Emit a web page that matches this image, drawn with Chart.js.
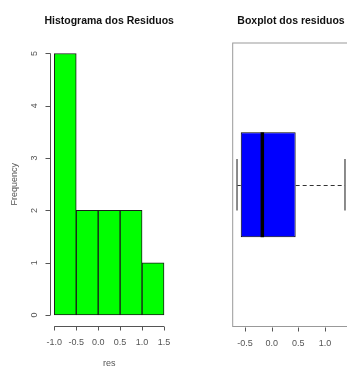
<!DOCTYPE html>
<html>
<head>
<meta charset="utf-8">
<script src="https://cdn.jsdelivr.net/npm/chart.js@4.4.1/dist/chart.umd.min.js"></script>
<style>
  html, body { margin: 0; padding: 0; background: #fff; overflow: hidden; width: 347px; height: 367px; }
  canvas { position: absolute; top: 0; }
  #hist { left: 0; }
  #box { left: 175px; }
</style>
</head>
<body>
<canvas id="hist" width="175" height="367"></canvas>
<canvas id="box" width="200" height="367"></canvas>
<script>
// histogram of the residuals
const breaks = [-1.0, -0.5, 0.0, 0.5, 1.0, 1.5];
const binMids = [-0.75, -0.25, 0.25, 0.75, 1.25];
const counts = [5, 2, 2, 2, 1];
const freqTicks = [0, 1, 2, 3, 4, 5];

// boxplot of the residuals: min, q1, median, q3, max
const boxStats = [-0.65, -0.58, -0.175, 0.45, 1.375];
const boxTicks = [-0.5, 0.0, 0.5, 1.0];

const FONT = '"Liberation Sans", Arial, sans-serif';

// R-like axes: detached lines, outward ticks, rotated y labels
const rAxes = {
  id: 'rAxes',
  afterDatasetsDraw(chart, args, opts) {
    const ctx = chart.ctx;
    const area = chart.chartArea;
    const xs = chart.scales.x;
    ctx.save();
    ctx.textAlign = 'center';
    ctx.textBaseline = 'middle';

    // title
    ctx.fillStyle = '#111';
    ctx.font = 'bold 10.5px ' + FONT;
    ctx.fillText(opts.title, (area.left + area.right) / 2, 21);

    ctx.strokeStyle = '#555';
    ctx.fillStyle = '#555';
    ctx.lineWidth = 1;
    ctx.font = '9px ' + FONT;

    // frame
    if (opts.frame) {
      ctx.strokeStyle = '#999';
      ctx.strokeRect(area.left, area.top, area.right - area.left, area.bottom - area.top);
      ctx.strokeStyle = '#555';
    }

    // bottom axis
    const yb = Math.round(area.bottom) + 0.5;
    ctx.beginPath();
    if (opts.xLine) {
      ctx.moveTo(xs.getPixelForValue(opts.xTicks[0]), yb);
      ctx.lineTo(xs.getPixelForValue(opts.xTicks[opts.xTicks.length - 1]), yb);
    }
    opts.xTicks.forEach(v => {
      const px = Math.round(xs.getPixelForValue(v)) + 0.5;
      ctx.moveTo(px, yb);
      ctx.lineTo(px, yb + 4);
    });
    ctx.stroke();
    opts.xTicks.forEach(v => {
      ctx.fillText(v.toFixed(1), xs.getPixelForValue(v), yb + 16);
    });
    if (opts.xTitle) ctx.fillText(opts.xTitle, (area.left + area.right) / 2, 364);

    // left axis
    if (opts.yTicks) {
      const ys = chart.scales.y;
      const xl = Math.round(area.left) + 0.5;
      ctx.beginPath();
      ctx.moveTo(xl, ys.getPixelForValue(opts.yTicks[0]));
      ctx.lineTo(xl, ys.getPixelForValue(opts.yTicks[opts.yTicks.length - 1]));
      opts.yTicks.forEach(v => {
        const py = Math.round(ys.getPixelForValue(v)) + 0.5;
        ctx.moveTo(xl, py);
        ctx.lineTo(xl - 5, py);
      });
      ctx.stroke();
      opts.yTicks.forEach(v => {
        ctx.save();
        ctx.translate(xl - 16, ys.getPixelForValue(v));
        ctx.rotate(-Math.PI / 2);
        ctx.fillText(String(v), 0, 0);
        ctx.restore();
      });
      if (opts.yTitle) {
        ctx.save();
        ctx.translate(15, (area.top + area.bottom) / 2);
        ctx.rotate(-Math.PI / 2);
        ctx.fillText(opts.yTitle, 0, 0);
        ctx.restore();
      }
    }
    ctx.restore();
  }
};

// median line, whiskers and staples on top of the floating bar
const boxWhiskers = {
  id: 'boxWhiskers',
  afterDatasetsDraw(chart) {
    const ctx = chart.ctx;
    const bar = chart.getDatasetMeta(0).data[0];
    const xs = chart.scales.x;
    const [lo, q1, med, q3, hi] = boxStats;
    const cy = Math.round(bar.y) + 0.5;
    const half = bar.height / 2;
    const cap = half * 0.49;
    ctx.save();

    // whiskers
    ctx.strokeStyle = '#333';
    ctx.lineWidth = 1;
    ctx.setLineDash([4, 3]);
    ctx.beginPath();
    ctx.moveTo(xs.getPixelForValue(lo), cy);
    ctx.lineTo(xs.getPixelForValue(q1), cy);
    ctx.moveTo(xs.getPixelForValue(q3), cy);
    ctx.lineTo(xs.getPixelForValue(hi), cy);
    ctx.stroke();
    ctx.setLineDash([]);

    // staples
    ctx.strokeStyle = '#666';
    ctx.lineWidth = 1.5;
    ctx.beginPath();
    [lo, hi].forEach(v => {
      const px = xs.getPixelForValue(v);
      ctx.moveTo(px, bar.y - cap);
      ctx.lineTo(px, bar.y + cap);
    });
    ctx.stroke();

    // median
    ctx.strokeStyle = '#000';
    ctx.lineWidth = 3.5;
    ctx.beginPath();
    const pm = xs.getPixelForValue(med);
    ctx.moveTo(pm, bar.y - half);
    ctx.lineTo(pm, bar.y + half);
    ctx.stroke();
    ctx.restore();
  }
};

new Chart(document.getElementById('hist'), {
  type: 'bar',
  data: {
    datasets: [{
      data: binMids.map((m, i) => ({ x: m, y: counts[i] })),
      backgroundColor: '#00ff00',
      borderColor: '#1b1b1b',
      borderWidth: 1,
      borderSkipped: false,
      barPercentage: 1,
      categoryPercentage: 1
    }]
  },
  options: {
    responsive: false,
    animation: false,
    devicePixelRatio: 1,
    layout: { padding: { left: 49.9, right: 6.6, top: 43, bottom: 41.5 } },
    scales: {
      x: {
        type: 'linear', min: -1.1, max: 1.6, display: false, offset: false,
        afterBuildTicks: s => { s.ticks = breaks.map(v => ({ value: v })); }
      },
      y: {
        min: -0.2, max: 5.2, display: false,
        afterBuildTicks: s => { s.ticks = freqTicks.map(v => ({ value: v })); }
      }
    },
    plugins: {
      legend: { display: false },
      tooltip: { enabled: false },
      rAxes: {
        title: 'Histograma dos Residuos',
        xTicks: breaks, xLine: true, xTitle: 'res',
        yTicks: freqTicks, yTitle: 'Frequency'
      }
    }
  },
  plugins: [rAxes]
});

new Chart(document.getElementById('box'), {
  type: 'bar',
  data: {
    labels: ['res'],
    datasets: [{
      data: [[boxStats[1], boxStats[3]]],
      backgroundColor: '#0000ff',
      borderColor: '#000',
      borderWidth: 1,
      borderSkipped: false,
      barPercentage: 0.37,
      categoryPercentage: 1
    }]
  },
  options: {
    indexAxis: 'y',
    responsive: false,
    animation: false,
    devicePixelRatio: 1,
    layout: { padding: { left: 57.7, right: 25.7, top: 43, bottom: 40.5 } },
    scales: {
      x: { type: 'linear', min: -0.731, max: 1.456, display: false },
      y: { display: false }
    },
    plugins: {
      legend: { display: false },
      tooltip: { enabled: false },
      rAxes: {
        title: 'Boxplot dos residuos',
        xTicks: boxTicks, xLine: false, frame: true
      }
    }
  },
  plugins: [rAxes, boxWhiskers]
});
</script>
</body>
</html>
